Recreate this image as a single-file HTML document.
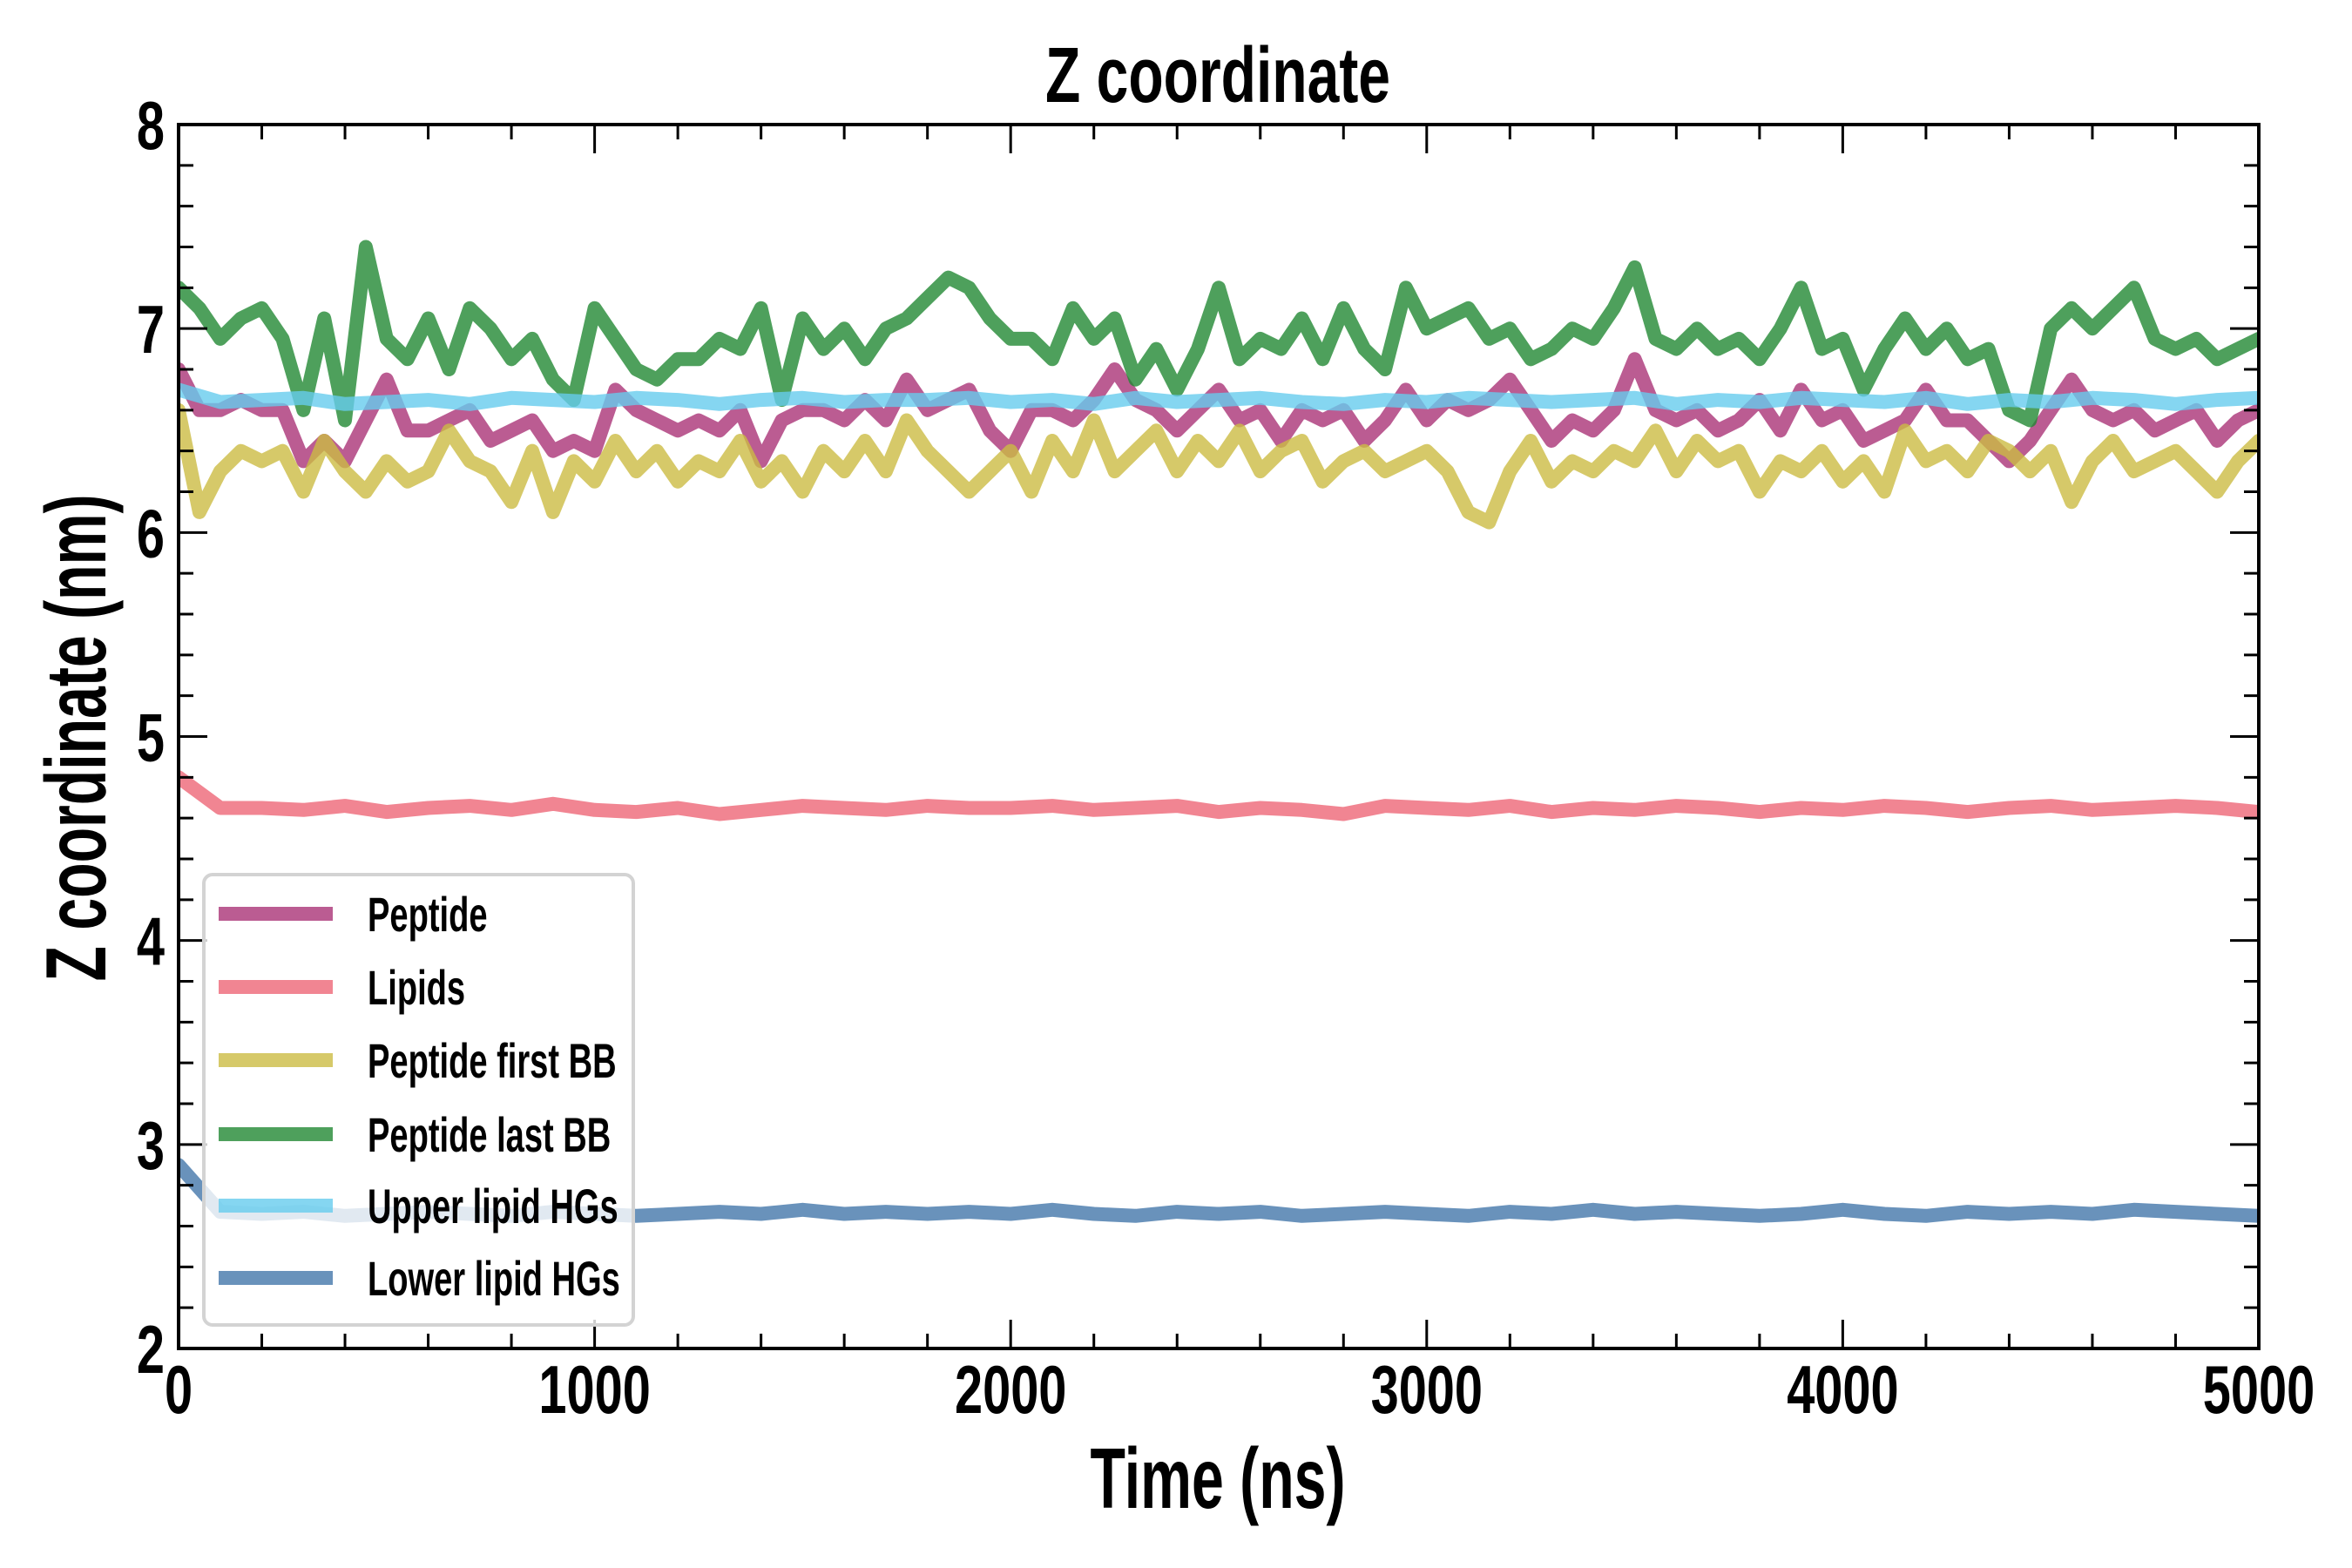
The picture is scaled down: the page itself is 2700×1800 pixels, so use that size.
<!DOCTYPE html>
<html><head><meta charset="utf-8"><style>
html,body{margin:0;padding:0;background:#fff;}
svg{display:block;}
text{font-family:"Liberation Sans Narrow","Liberation Sans",sans-serif;font-weight:bold;fill:#000;}
</style></head><body>
<svg id="chart" width="2700" height="1800" viewBox="0 0 2700 1800" xmlns="http://www.w3.org/2000/svg">
<rect width="2700" height="1800" fill="#fff"/>
<text x="1398" y="117" font-size="90" text-anchor="middle" textLength="396" lengthAdjust="spacingAndGlyphs">Z coordinate</text>
<text x="1398" y="1731" font-size="98" text-anchor="middle" textLength="293" lengthAdjust="spacingAndGlyphs">Time (ns)</text>
<text transform="translate(121,847) rotate(-90)" font-size="98" text-anchor="middle" textLength="559" lengthAdjust="spacingAndGlyphs">Z coordinate (nm)</text>
<g id="series"></g>
<g id="axes"></g>
<g id="legend"></g>
</svg>
<script>
const xTicks = [0,1000,2000,3000,4000,5000];
const yTicks = [2,3,4,5,6,7,8];
const seriesNames = ["Peptide","Lipids","Peptide first BB","Peptide last BB","Upper lipid HGs","Lower lipid HGs"];
const timeFine = Array.from({length:101},(_,i)=>i*50);
const timeCoarse = Array.from({length:51},(_,i)=>i*100);
const peptide = [6.8,6.6,6.6,6.65,6.6,6.6,6.35,6.45,6.35,6.55,6.75,6.5,6.5,6.55,6.6,6.45,6.5,6.55,6.4,6.45,6.4,6.7,6.6,6.55,6.5,6.55,6.5,6.6,6.35,6.55,6.6,6.6,6.55,6.65,6.55,6.75,6.6,6.65,6.7,6.5,6.4,6.6,6.6,6.55,6.65,6.8,6.65,6.6,6.5,6.6,6.7,6.55,6.6,6.45,6.6,6.55,6.6,6.45,6.55,6.7,6.55,6.65,6.6,6.65,6.75,6.6,6.45,6.55,6.5,6.6,6.85,6.6,6.55,6.6,6.5,6.55,6.65,6.5,6.7,6.55,6.6,6.45,6.5,6.55,6.7,6.55,6.55,6.45,6.35,6.45,6.6,6.75,6.6,6.55,6.6,6.5,6.55,6.6,6.45,6.55,6.6];
const firstBB = [6.6,6.1,6.3,6.4,6.35,6.4,6.2,6.45,6.3,6.2,6.35,6.25,6.3,6.5,6.35,6.3,6.15,6.4,6.1,6.35,6.25,6.45,6.3,6.4,6.25,6.35,6.3,6.45,6.25,6.35,6.2,6.4,6.3,6.45,6.3,6.55,6.4,6.3,6.2,6.3,6.4,6.2,6.45,6.3,6.55,6.3,6.4,6.5,6.3,6.45,6.35,6.5,6.3,6.4,6.45,6.25,6.35,6.4,6.3,6.35,6.4,6.3,6.1,6.05,6.3,6.45,6.25,6.35,6.3,6.4,6.35,6.5,6.3,6.45,6.35,6.4,6.2,6.35,6.3,6.4,6.25,6.35,6.2,6.5,6.35,6.4,6.3,6.45,6.4,6.3,6.4,6.15,6.35,6.45,6.3,6.35,6.4,6.3,6.2,6.35,6.45];
const lastBB = [7.2,7.1,6.95,7.05,7.1,6.95,6.6,7.05,6.55,7.4,6.95,6.85,7.05,6.8,7.1,7.0,6.85,6.95,6.75,6.65,7.1,6.95,6.8,6.75,6.85,6.85,6.95,6.9,7.1,6.65,7.05,6.9,7.0,6.85,7.0,7.05,7.15,7.25,7.2,7.05,6.95,6.95,6.85,7.1,6.95,7.05,6.75,6.9,6.7,6.9,7.2,6.85,6.95,6.9,7.05,6.85,7.1,6.9,6.8,7.2,7.0,7.05,7.1,6.95,7.0,6.85,6.9,7.0,6.95,7.1,7.3,6.95,6.9,7.0,6.9,6.95,6.85,7.0,7.2,6.9,6.95,6.7,6.9,7.05,6.9,7.0,6.85,6.9,6.6,6.55,7.0,7.1,7.0,7.1,7.2,6.95,6.9,6.95,6.85,6.9,6.95];
const lipids = [4.8,4.65,4.65,4.64,4.66,4.63,4.65,4.66,4.64,4.67,4.64,4.63,4.65,4.62,4.64,4.66,4.65,4.64,4.66,4.65,4.65,4.66,4.64,4.65,4.66,4.63,4.65,4.64,4.62,4.66,4.65,4.64,4.66,4.63,4.65,4.64,4.66,4.65,4.63,4.65,4.64,4.66,4.65,4.63,4.65,4.66,4.64,4.65,4.66,4.65,4.63];
const upperHG = [6.7,6.64,6.65,6.66,6.63,6.64,6.65,6.63,6.66,6.65,6.64,6.66,6.65,6.63,6.65,6.66,6.64,6.65,6.65,6.66,6.64,6.65,6.63,6.66,6.64,6.65,6.66,6.64,6.63,6.65,6.64,6.66,6.65,6.64,6.65,6.66,6.63,6.65,6.64,6.66,6.65,6.64,6.66,6.63,6.65,6.64,6.66,6.65,6.63,6.65,6.66];
const lowerHG = [2.9,2.67,2.66,2.67,2.65,2.66,2.67,2.66,2.65,2.67,2.66,2.65,2.66,2.67,2.66,2.68,2.66,2.67,2.66,2.67,2.66,2.68,2.66,2.65,2.67,2.66,2.67,2.65,2.66,2.67,2.66,2.65,2.67,2.66,2.68,2.66,2.67,2.66,2.65,2.66,2.68,2.66,2.65,2.67,2.66,2.67,2.66,2.68,2.67,2.66,2.65];

const L=205,R=2593,T=143,B=1548;
const xMin=0,xMax=5000,yMin=2,yMax=8;
function xs(v){return L+(v-xMin)/(xMax-xMin)*(R-L);}
function ys(v){return B-(v-yMin)/(yMax-yMin)*(B-T);}
const NS="http://www.w3.org/2000/svg";
function mk(tag,attrs,parent){const e=document.createElementNS(NS,tag);for(const k in attrs)e.setAttribute(k,attrs[k]);parent.appendChild(e);return e;}
const colors=["#AA3377","#EE6677","#CCBB44","#228833","#66CCEE","#4477AA"];
const seriesData=[[timeFine,peptide],[timeCoarse,lipids],[timeFine,firstBB],[timeFine,lastBB],[timeCoarse,upperHG],[timeCoarse,lowerHG]];
const svg=document.getElementById('chart');
const defs=mk('defs',{},svg);
const cp=mk('clipPath',{id:'pc'},defs);mk('rect',{x:L,y:T,width:R-L,height:B-T},cp);
const sg=document.getElementById('series');
sg.setAttribute('clip-path','url(#pc)');
seriesData.forEach((s,i)=>{
  const pts=s[0].map((t,j)=>xs(t).toFixed(1)+","+ys(s[1][j]).toFixed(1)).join(" ");
  const p=mk('polyline',{points:pts,fill:'none',stroke:colors[i],'stroke-width':16,'stroke-opacity':0.8,'stroke-linejoin':'round','stroke-linecap':'round'},sg);
  
  
});
const ax=document.getElementById('axes');
const frame=mk('rect',{x:L,y:T,width:R-L,height:B-T,fill:'none',stroke:'#000','stroke-width':4},ax);


for(let v=0;v<=5000;v+=200){
  const major=v%1000===0,len=major?33:17,x=xs(v);
  mk('line',{x1:x,y1:B,x2:x,y2:B-len,stroke:'#000','stroke-width':3},ax);
  mk('line',{x1:x,y1:T,x2:x,y2:T+len,stroke:'#000','stroke-width':3},ax);
}
for(let k=0;k<=30;k++){
  const v=2+k*0.2,major=k%5===0,len=major?33:17,y=ys(v);
  mk('line',{x1:L,y1:y,x2:L+len,y2:y,stroke:'#000','stroke-width':3},ax);
  mk('line',{x1:R,y1:y,x2:R-len,y2:y,stroke:'#000','stroke-width':3},ax);
}
xTicks.forEach(v=>{
  const t=mk('text',{x:0,y:0,'font-size':78,'text-anchor':'middle',transform:'translate('+xs(v)+',1622) scale(0.74,1)'},ax);t.textContent=v;
  
  
});
yTicks.forEach(v=>{
  const t=mk('text',{x:0,y:0,'font-size':78,'text-anchor':'end',transform:'translate(189,'+(ys(v)+28)+') scale(0.74,1)'},ax);t.textContent=v;
  
  
});
const lg=document.getElementById('legend');
const box=mk('rect',{x:234,y:1004,width:493,height:517,rx:10,fill:'#fff','fill-opacity':0.8,stroke:'#d3d3d3','stroke-width':4},lg);


const rowY=[1049,1133,1217,1302,1384,1467];
seriesNames.forEach((n,i)=>{
  const g=mk('g',{},lg);
  
  
  mk('line',{x1:251,y1:rowY[i],x2:382,y2:rowY[i],stroke:colors[i],'stroke-width':16,'stroke-opacity':0.8},g);
  const t=mk('text',{x:0,y:0,'font-size':56,transform:'translate(422,'+(rowY[i]+20)+') scale(0.68,1)'},g);t.textContent=n;
});
</script>
</body></html>
